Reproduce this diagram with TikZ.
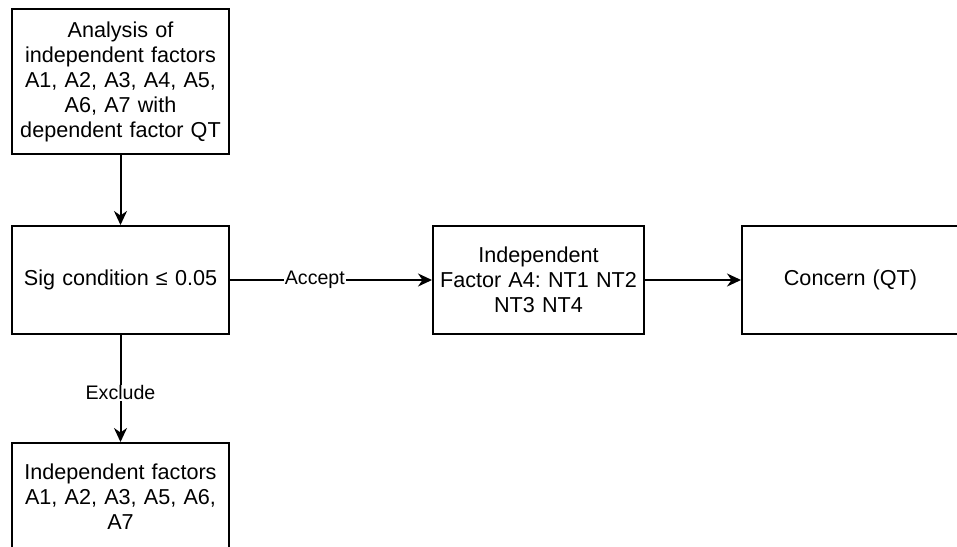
\documentclass[tikz,border=0pt]{standalone}
\usepackage{fontspec}
\setmainfont{Liberation Sans}
\usetikzlibrary{arrows.meta}
\frenchspacing
\begin{document}
\begin{tikzpicture}[x=1pt,y=-1pt,
  box/.style={draw=black,line width=2pt,fill=white,inner sep=0pt,
    minimum width=#1,minimum height=108pt,align=center,text width=205pt,
    font=\fontsize{21.6}{25}\selectfont},
  box/.default=217pt,
  link/.style={line width=2pt,-{Stealth[length=14pt,width=13pt,inset=4.5pt]}},
  tag/.style={fill=white,inner sep=1pt,font=\fontsize{19.6}{22}\selectfont}]
\useasboundingbox (0,0) rectangle (957,546);
\clip (0,0) rectangle (957,546);
% analysis box and the decision step
\node[box,minimum height=145pt] (analysis) at (120.5,81.5)
  {Analysis of\\independent factors\\A1, A2, A3, A4, A5,\\A6, A7 with\\dependent factor QT};
\node[box] (sig) at (120.5,280) {Sig condition ≤ 0.05};
% accepted branch
\node[box=211pt] (factor) at (538.5,280) {Independent\\Factor A4: NT1 NT2\\NT3 NT4};
\node[box] (concern) at (850.5,280) {Concern (QT)};
% excluded branch
\node[box] (excluded) at (120.5,497) {Independent factors\\A1, A2, A3, A5, A6,\\A7};
% connectors
\draw[link] (analysis) -- (sig);
\draw[link] (sig) -- node[tag,pos=0.42] {Accept} (factor);
\draw[link] (factor) -- (concern);
\draw[link] (sig) -- node[tag,pos=0.54] {Exclude} (excluded);
\end{tikzpicture}
\end{document}
